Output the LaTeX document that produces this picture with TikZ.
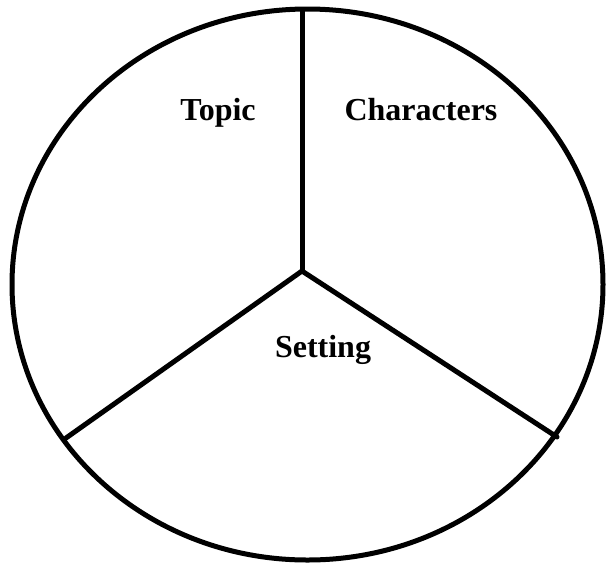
\documentclass[tikz,border=0pt]{standalone}
\usepackage{fontspec}
\setmainfont{Liberation Serif}
\usetikzlibrary{positioning}

\begin{document}
\begin{tikzpicture}[
  x=1pt,
  y=-1pt,
  line cap=round,
  line join=round,
  rim/.style={draw=black,line width=5pt},
  spoke/.style={draw=black,line width=5pt},
  sector/.style={font=\fontsize{32}{36}\selectfont\bfseries,anchor=base,inner sep=0pt}
]
  \useasboundingbox (0,0) rectangle (608,566);

  % Outer rim
  \draw[rim] (307.5,284.5) ellipse [x radius=295.5, y radius=275.5];

  % Hub and spoke ends on the rim
  \coordinate (hub) at (302,271);
  \coordinate (toprim) at (302,9.5);
  \coordinate (leftrim) at (66,438);
  \coordinate (rightrim) at (557,437);

  \draw[spoke] (hub) -- (toprim);
  \draw[spoke] (hub) -- (leftrim);
  \draw[spoke] (hub) -- (rightrim);

  % Sector labels
  \node[sector] (topic) at (218,120) {Topic};
  \node[sector] (characters) at (421,120) {Characters};
  \node[sector] (setting) at (323,357) {Setting};

\end{tikzpicture}
\end{document}
